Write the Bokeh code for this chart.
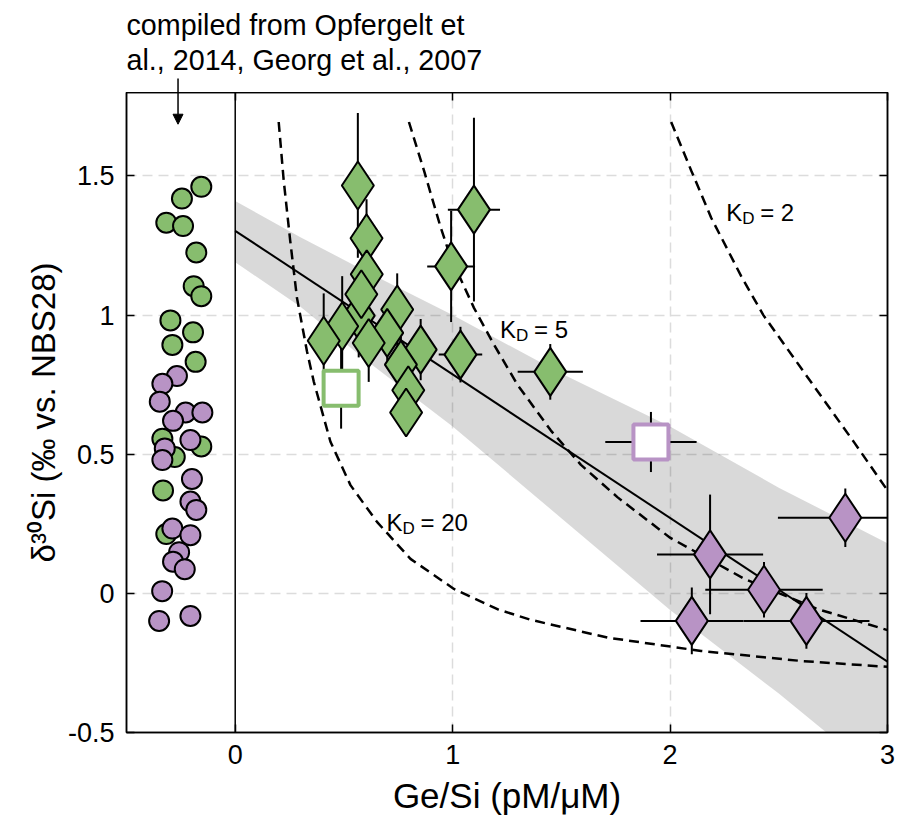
import numpy as np
from bokeh.plotting import figure
from bokeh.layouts import column
from bokeh.models import (Range1d, FixedTicker, LinearAxis, Span, Arrow,
                          NormalHead, CustomJSTickFormatter)
from bokeh.core.properties import value
from bokeh.embed import file_html
from bokeh.resources import INLINE

FONT = "Liberation Sans"
GREEN = "#87BD6E"
PURPLE = "#B893C5"

# ---- compiled literature data (circles) ----
lit_green_x = [-0.156, -0.245, -0.317, -0.240, -0.179, -0.191, -0.156, -0.298, -0.194,
               -0.289, -0.182, -0.335, -0.156, -0.278, -0.332, -0.317]
lit_green_y = [1.461, 1.419, 1.332, 1.320, 1.225, 1.104, 1.068, 0.981, 0.938,
               0.893, 0.832, 0.556, 0.528, 0.490, 0.370, 0.213]
lit_purple_x = [-0.268, -0.335, -0.347, -0.228, -0.151, -0.286, -0.206, -0.324, -0.335,
                -0.199, -0.206, -0.179, -0.289, -0.206, -0.258, -0.286, -0.232, -0.336,
                -0.350, -0.206]
lit_purple_y = [0.781, 0.753, 0.689, 0.650, 0.650, 0.620, 0.551, 0.521, 0.479,
                0.411, 0.330, 0.300, 0.233, 0.209, 0.148, 0.114, 0.087, 0.008,
                -0.099, -0.081]

# ---- samples (diamonds) ----
green_x = [0.564, 0.604, 0.605, 0.568, 0.580, 0.492, 0.407, 0.745, 0.699, 0.614,
           0.853, 0.762, 0.796, 0.786, 1.036, 0.993, 1.098, 1.449]
green_y = [1.466, 1.276, 1.147, 0.998, 1.075, 0.960, 0.908, 1.020, 0.936, 0.900,
           0.876, 0.822, 0.730, 0.650, 0.858, 1.175, 1.379, 0.796]
green_xerr = [0, 0, 0, 0, 0, 0, 0, 0, 0, 0,
              0, 0, 0, 0, 0.10, 0.11, 0.12, 0.15]
green_yerr = [0.26, 0.14, 0.12, 0.15, 0.12, 0.18, 0.17, 0.13, 0.10, 0.14,
              0.11, 0.10, 0.10, 0.085, 0.10, 0.20, 0.33, 0.10]

purple_x = [2.806, 2.184, 2.432, 2.100, 2.627]
purple_y = [0.272, 0.140, 0.013, -0.099, -0.099]
purple_xerr = [0.31, 0.244, 0.27, 0.236, 0.29]
purple_yerr = [0.105, 0.215, 0.10, 0.12, 0.10]

# ---- open squares ----
gsq_x, gsq_y, gsq_xerr, gsq_yerr = [0.487], [0.737], [0.0], [0.145]
psq_x, psq_y, psq_xerr, psq_yerr = [1.912], [0.544], [0.21], [0.108]

# ---- regression line and confidence band ----
reg_x = [0.0, 3.0]
reg_y = [1.303, -0.245]
band_x = [0.0, 0.3, 0.6, 1.0, 1.5, 2.0, 2.5, 3.0]
band_upper = [1.41, 1.28, 1.158, 1.00, 0.79, 0.60, 0.38, 0.18]
band_lower = [1.19, 1.03, 0.839, 0.60, 0.27, -0.06, -0.36, -0.68]

# ---- model curves ----
kd20_x = [0.200, 0.223, 0.253, 0.284, 0.330, 0.361, 0.438, 0.530, 0.653, 0.806, 1.006,
          1.206, 1.359, 1.713, 2.143, 2.604, 3.000]
kd20_y = [1.694, 1.484, 1.267, 1.062, 0.870, 0.762, 0.545, 0.389, 0.256, 0.124, 0.016,
          -0.057, -0.095, -0.159, -0.207, -0.243, -0.264]
kd5_x = [0.799, 0.868, 0.945, 0.991, 1.098, 1.190, 1.298, 1.452, 1.590, 1.759, 2.000,
         2.342, 2.681, 3.000]
kd5_y = [1.694, 1.520, 1.315, 1.207, 1.026, 0.894, 0.750, 0.585, 0.462, 0.345, 0.200,
         0.052, -0.057, -0.132]
kd2_x = [2.005, 2.097, 2.189, 2.327, 2.429, 2.634, 2.849, 3.000]
kd2_y = [1.694, 1.520, 1.350, 1.140, 1.000, 0.775, 0.540, 0.370]

kd_label_x = [0.696, 1.218, 2.258]
kd_label_y = [0.254, 0.948, 1.369]
kd_label_val = ["= 20", "= 5", "= 2"]

note_lines = ["compiled from Opfergelt et", "al., 2014, Georg et al., 2007"]
note_x = -0.5
note_arrow_x = -0.263

x_ticks = [0, 1, 2, 3]
y_ticks = [-0.5, 0, 0.5, 1, 1.5]
y_tick_labels = ["-0.5", "0", "0.5", "1", "1.5"]

HEAD_H = 92
W = 897
xr = Range1d(-0.5, 3)

# ---------------- header strip (annotation above the axes) ----------------
h = figure(width=W, height=HEAD_H, x_range=xr, y_range=Range1d(0, HEAD_H),
           output_backend="svg", toolbar_location=None, title=None,
           x_axis_location=None, y_axis_location=None,
           min_border_left=126, min_border_right=10, min_border_top=0, min_border_bottom=0)
h.outline_line_color = None
h.grid.visible = False
h.text(x=[note_x, note_x], y=[HEAD_H - 24, HEAD_H - 59], text=note_lines,
       text_font=value(FONT), text_font_size="28.7px", text_baseline="alphabetic",
       text_align="left", text_color="black")
h.segment(x0=[note_arrow_x], y0=[HEAD_H - 78], x1=[note_arrow_x], y1=[0],
          line_color="black", line_width=1.5)

# ---------------- main axes ----------------
p = figure(width=W, height=824 - HEAD_H, x_range=xr, y_range=Range1d(-0.5, 1.8),
           output_backend="svg", toolbar_location=None, title=None,
           min_border_left=126, min_border_right=10, min_border_top=0, min_border_bottom=92)
p.outline_line_color = "black"
p.outline_line_width = 1.5

for ax in (p.xaxis[0], p.yaxis[0]):
    ax.major_tick_in = 8
    ax.major_tick_out = 0
    ax.minor_tick_line_color = None
    ax.major_tick_line_width = 1.5
    ax.axis_line_width = 1.5
    ax.major_label_text_font = FONT
    ax.major_label_text_font_size = "27px"
    ax.major_label_text_color = "black"
    ax.axis_label_text_font = FONT
    ax.axis_label_text_font_style = "normal"
    ax.axis_label_text_color = "black"
    ax.major_label_standoff = 12
p.xaxis.axis_label_text_font_size = "35px"
p.yaxis.axis_label_text_font_size = "33px"
p.xaxis.ticker = FixedTicker(ticks=x_ticks)
p.yaxis.ticker = FixedTicker(ticks=y_ticks)
p.xaxis.major_label_overrides = {t: str(t) for t in x_ticks}
p.yaxis.major_label_overrides = {t: l for t, l in zip(y_ticks, y_tick_labels)}
p.xaxis.axis_label = "Ge/Si (pM/μM)"
p.yaxis.axis_label = "δ³⁰Si (‰ vs. NBS28)"
p.xaxis.axis_label_standoff = 9
p.yaxis.axis_label_standoff = 3

for loc, ticks in (("right", y_ticks), ("above", x_ticks)):
    ax = LinearAxis(ticker=FixedTicker(ticks=ticks),
                    formatter=CustomJSTickFormatter(code="return ''"),
                    major_tick_in=8, major_tick_out=0, minor_tick_line_color=None,
                    major_label_standoff=0, major_tick_line_width=1.5,
                    axis_line_width=1.5, major_label_text_font_size="1px")
    p.add_layout(ax, loc)

p.xgrid.ticker = FixedTicker(ticks=[1, 2])
p.ygrid.ticker = FixedTicker(ticks=[0, 0.5, 1, 1.5])
for g in (p.xgrid[0], p.ygrid[0]):
    g.grid_line_color = "#dcdcdc"
    g.grid_line_dash = "10 6"
    g.grid_line_width = 1.5

p.add_layout(Span(location=0, dimension="height", line_color="black", line_width=1.5))

p.varea(x=band_x, y1=band_lower, y2=band_upper, fill_color="black", fill_alpha=0.15)
p.line(reg_x, reg_y, line_color="black", line_width=2)
for cx, cy in ((kd20_x, kd20_y), (kd5_x, kd5_y), (kd2_x, kd2_y)):
    p.line(cx, cy, line_color="black", line_width=2.5, line_dash="10 6")

p.text(x=kd_label_x, y=kd_label_y, text=["K"] * 3, text_font=value(FONT),
       text_font_size="24px", text_baseline="alphabetic", text_color="black")
p.text(x=kd_label_x, y=kd_label_y, text=["D"] * 3, x_offset=16, y_offset=6,
       text_font=value(FONT), text_font_size="17px", text_baseline="alphabetic",
       text_color="black")
p.text(x=kd_label_x, y=kd_label_y, text=kd_label_val, x_offset=34, text_font=value(FONT),
       text_font_size="24px", text_baseline="alphabetic", text_color="black")

# literature circles
p.scatter(lit_green_x, lit_green_y, marker="circle", size=20, fill_color=GREEN,
          line_color="black", line_width=2)
p.scatter(lit_purple_x, lit_purple_y, marker="circle", size=20, fill_color=PURPLE,
          line_color="black", line_width=2)


def errbars(x, y, xe, ye):
    x, y, xe, ye = map(np.asarray, (x, y, xe, ye))
    p.segment(x, y - ye, x, y + ye, line_color="black", line_width=2)
    p.segment(x - xe, y, x + xe, y, line_color="black", line_width=2)


errbars(green_x, green_y, green_xerr, green_yerr)
p.scatter(green_x, green_y, marker="diamond", size=48, fill_color=GREEN,
          line_color="black", line_width=2)
errbars(gsq_x, gsq_y, gsq_xerr, gsq_yerr)
p.scatter(gsq_x, gsq_y, marker="square", size=35, fill_color="white",
          line_color=GREEN, line_width=4)
errbars(psq_x, psq_y, psq_xerr, psq_yerr)
p.scatter(psq_x, psq_y, marker="square", size=35, fill_color="white",
          line_color=PURPLE, line_width=4)
errbars(purple_x, purple_y, purple_xerr, purple_yerr)
p.scatter(purple_x, purple_y, marker="diamond", size=48, fill_color=PURPLE,
          line_color="black", line_width=2)

p.add_layout(Arrow(end=NormalHead(size=10, fill_color="black", line_color="black"),
                   x_start=note_arrow_x, y_start=1.8, x_end=note_arrow_x, y_end=1.686,
                   line_width=1.5, line_color="black"))

layout = column(h, p, spacing=0)
open("out.html", "w").write(file_html(layout, INLINE))
